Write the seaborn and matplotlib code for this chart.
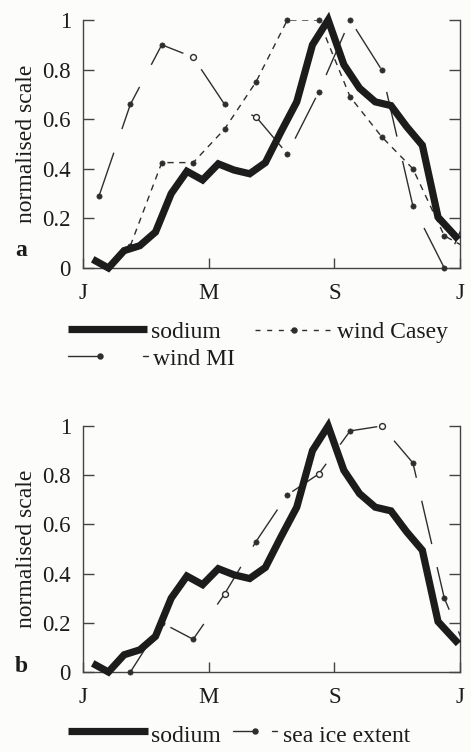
import matplotlib
matplotlib.use("Agg")
import matplotlib.pyplot as plt
from matplotlib.lines import Line2D
import pandas as pd
import seaborn as sns

# ---------------------------------------------------------------- data
month_ticks = [0, 4, 8, 12]
month_labels = ["J", "M", "S", "J"]
y_ticks = [0, 0.2, 0.4, 0.6, 0.8, 1]
y_tick_labels = ["0", "0.2", "0.4", "0.6", "0.8", "1"]

# half-monthly sodium record, time in months from 1 January
sodium_t = [0.3, 0.8, 1.3, 1.8, 2.3, 2.8, 3.3, 3.8, 4.3, 4.8, 5.3, 5.8,
            6.3, 6.8, 7.3, 7.8, 8.3, 8.8, 9.3, 9.8, 10.3, 10.8, 11.3, 11.95]
sodium = [0.035, 0.0, 0.07, 0.09, 0.145, 0.30, 0.39, 0.355, 0.42, 0.395, 0.38, 0.425,
          0.55, 0.67, 0.90, 1.0, 0.82, 0.725, 0.67, 0.655, 0.57, 0.495, 0.205, 0.115]

# monthly means plotted at mid-month; last entry is the following January
mi_t = [0.5, 1.5, 2.5, 3.5, 4.5, 5.5, 6.5, 7.5, 8.5, 9.5, 10.5, 11.5, 12.5]
wind_mi = [0.29, 0.66, 0.90, 0.85, 0.66, 0.61, 0.46, 0.71, 1.0, 0.80, 0.25, 0.0, 0.29]

casey_t = [1.5, 2.5, 3.5, 4.5, 5.5, 6.5, 7.5, 8.5, 9.5, 10.5, 11.5, 12.5]
wind_casey = [0.09, 0.425, 0.425, 0.56, 0.75, 1.0, 1.0, 0.69, 0.53, 0.40, 0.13, 0.06]

ice_t = [1.5, 2.5, 3.5, 4.5, 5.5, 6.5, 7.5, 8.5, 9.5, 10.5, 11.5, 12.5]
sea_ice = [0.0, 0.20, 0.133, 0.317, 0.53, 0.72, 0.805, 0.98, 1.0, 0.85, 0.30, 0.0]

# which monthly points are drawn as open circles
mi_open = [3, 5]
ice_open = [3, 6, 8]

# ---------------------------------------------------------------- style
W, H = 471, 752
sns.set_style("ticks")
plt.rcParams["font.family"] = ["Liberation Serif", "DejaVu Serif"]
plt.rcParams["lines.scale_dashes"] = False

INK = "#1c1c1c"
THIN = "#2e2e2e"
BG = "#fcfcfa"
FS = 16.5

fig = plt.figure(figsize=(W / 100, H / 100), dpi=100, facecolor=BG)


def fx(px):
    return px / W


def fy(py):
    return 1 - py / H


def frame(ax, letter, letter_y):
    ax.set_facecolor(BG)
    ax.set_xlim(0, 12)
    ax.set_ylim(0, 1)
    ax.spines["top"].set_visible(False)
    for s in ("left", "right", "bottom"):
        ax.spines[s].set_color("#444444")
        ax.spines[s].set_linewidth(1.0)
    ax.set_xticks(month_ticks)
    ax.set_xticklabels(month_labels, fontsize=FS)
    ax.set_yticks(y_ticks)
    ax.set_yticklabels(y_tick_labels, fontsize=FS)
    ax.tick_params(axis="y", direction="in", length=8, width=1.0, color="#444444",
                   left=True, right=True, pad=9, labelcolor=INK)
    ax.tick_params(axis="x", direction="in", length=7, width=1.0, color="#444444",
                   pad=11, labelcolor=INK)
    ax.set_xlabel("")
    ax.set_ylabel("normalised scale", fontsize=FS + 0.5, color=INK, labelpad=4)
    ax.text(-0.165, letter_y, letter, transform=ax.transAxes, fontsize=FS + 0.5,
            fontweight="bold", color=INK, ha="center", va="baseline")


def sodium_line(ax):
    df = pd.DataFrame({"t": sodium_t, "v": sodium})
    sns.lineplot(data=df, x="t", y="v", ax=ax, color=INK, lw=5.2,
                 solid_joinstyle="miter", solid_capstyle="butt",
                 clip_on=False, zorder=5, legend=False)


def thin_series(ax, t, v, dash, open_idx):
    df = pd.DataFrame({"t": t, "v": v})
    sns.lineplot(data=df, x="t", y="v", ax=ax, color=THIN, lw=1.0,
                 linestyle=dash, zorder=3, legend=False)
    pts = df[df["t"] < 12].copy()
    pts["open"] = [i in open_idx for i in range(len(pts))]
    filled = pts[~pts["open"]]
    hollow = pts[pts["open"]]
    sns.scatterplot(data=filled, x="t", y="v", ax=ax, s=14, color=THIN,
                    edgecolor=THIN, linewidth=0.5, zorder=4, clip_on=False, legend=False)
    if len(hollow):
        sns.scatterplot(data=hollow, x="t", y="v", ax=ax, s=18, color=BG,
                        edgecolor=THIN, linewidth=1.0, zorder=4, clip_on=False,
                        legend=False)


# ---------------------------------------------------------------- panel a
ax_a = fig.add_axes([fx(83.3), fy(268), (460 - 83.3) / W, 248 / H])
long_dash = (0, (33, 18))
short_dash = (0, (4.5, 4.0))
thin_series(ax_a, casey_t, wind_casey, short_dash, [])
thin_series(ax_a, mi_t, wind_mi, long_dash, mi_open)
sodium_line(ax_a)
frame(ax_a, "a", 0.05)

# ---------------------------------------------------------------- panel b
ax_b = fig.add_axes([fx(83.3), fy(672), (460 - 83.3) / W, 246 / H])
thin_series(ax_b, ice_t, sea_ice, (0, (32, 17)), ice_open)
sodium_line(ax_b)
frame(ax_b, "b", 0.0)


# ---------------------------------------------------------------- keys
def key_line(x0, x1, y, **kw):
    fig.add_artist(Line2D([fx(x0), fx(x1)], [fy(y), fy(y)], transform=fig.transFigure, **kw))


def key_dot(x, y):
    fig.add_artist(Line2D([fx(x)], [fy(y)], transform=fig.transFigure, marker="o",
                          markersize=3.6, color=THIN, lw=0))


def key_text(x, y, s):
    fig.text(fx(x), fy(y), s, fontsize=FS + 0.5, color=INK, ha="left", va="baseline")


# legend of panel a
key_line(68, 147, 329, color=INK, lw=5.2, solid_capstyle="butt")
key_text(151, 338, "sodium")
key_line(255, 333, 330, color=THIN, lw=1.0, linestyle=(0, (3.6, 4.8)))
key_dot(294, 330)
key_text(337, 338, "wind Casey")
key_line(68, 102, 356, color=THIN, lw=1.0)
key_dot(100, 356)
key_line(143, 148, 356, color=THIN, lw=1.0)
key_text(153, 365, "wind MI")

# legend of panel b
key_line(68, 148, 731, color=INK, lw=5.2, solid_capstyle="butt")
key_text(151, 742, "sodium")
key_line(233, 257, 731, color=THIN, lw=1.0)
key_dot(255, 731)
key_line(272, 277, 731, color=THIN, lw=1.0)
key_text(283, 742, "sea ice extent")

fig.savefig("out.png", dpi=100, facecolor=BG)
